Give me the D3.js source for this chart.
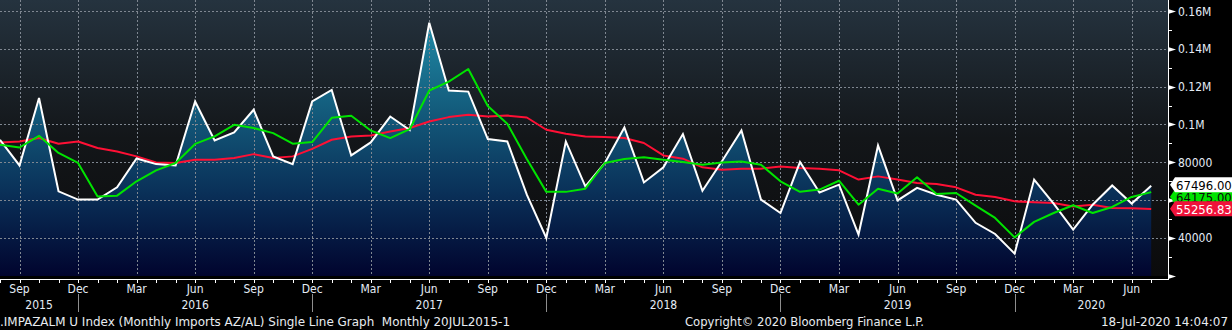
<!DOCTYPE html>
<html>
<head>
<meta charset="utf-8">
<script src="https://cdn.jsdelivr.net/npm/d3@7"></script>
<style>
  html, body { margin: 0; padding: 0; background: #000; }
  svg { display: block; }
  text {
    font-family: "DejaVu Sans Condensed", "DejaVu Sans", sans-serif;
    font-stretch: condensed;
    font-size: 12px;
    white-space: pre;
  }
</style>
</head>
<body>
<svg id="chart" width="1232" height="330"></svg>
<script>
// Monthly aluminium imports (Azerbaijan), Aug 2015 – Jul 2020
const firstMonth = [2015, 8];   // year, month (1-based)
const monthNames = ["Jan","Feb","Mar","Apr","May","Jun","Jul","Aug","Sep","Oct","Nov","Dec"];

const imports = [
  91900, 78300, 114000, 64600, 60200,
  60200, 66700, 82000, 79000, 78300, 112200, 91500, 95800, 107800, 83100, 79000, 112200,
  118300, 83600, 90500, 104200, 97000, 153900, 118000, 117400, 92300, 91000, 62800, 39900,
  91000, 67200, 79600, 98400, 69300, 77300, 94900, 64900, 80500, 96800, 60200, 53100,
  80100, 64000, 68100, 41700, 88900, 59800, 66400, 62800, 60200, 47900, 42000, 31600,
  70800, 58100, 44300, 57500, 67700, 58100, 67496.00
];

const avgShort = [
  89300, 87800, 94000, 84900, 79600,
  61900, 62300, 69900, 75700, 79600, 89700, 93700, 99800, 98100, 95400, 89800, 90700,
  103500, 104600, 96800, 92800, 97500, 118000, 122700, 129400, 109800, 100400, 81700, 64300,
  64300, 66000, 79600, 81700, 82600, 81300, 80100, 78700, 79900, 80400, 78700, 69900,
  64300, 65500, 70200, 57500, 66000, 63400, 72000, 63200, 63700, 57000, 50500, 40200,
  48400, 53100, 57200, 53100, 56300, 61600, 64175.00
];

const avgLong = [
  90500, 91000, 92800, 89800, 91000,
  87500, 85700, 83100, 79900, 79600, 81300, 81300, 82200, 84300, 82200, 83100, 87100,
  91900, 93600, 94200, 96300, 98100, 101600, 103900, 105100, 104200, 104700, 103700, 97200,
  95100, 93600, 93300, 92800, 90200, 83600, 81900, 77300, 76000, 76600, 76600, 77800,
  76900, 76600, 75700, 70800, 72500, 70800, 69000, 68500, 66700, 62800, 61600, 59300,
  58800, 58400, 56600, 57500, 55800, 55600, 55256.83
];

const yTickValues = [20000, 40000, 60000, 80000, 100000, 120000, 140000, 160000];
const yTickLabels = ["", "40000", "60000", "80000", "0.1M", "0.12M", "0.14M", "0.16M"];

const footerLeft  = ".IMPAZALM U Index (Monthly Imports AZ/AL) Single Line Graph  Monthly 20JUL2015-1";
const footerMid   = "Copyright\u00A9 2020 Bloomberg Finance L.P.";
const footerRight = "18-Jul-2020 14:04:07";

// ---- layout ----
const W = 1232, H = 330;
const plotRight = 1168, plotBottom = 276, axisY = 279;
const dataRight = 1151.2;

const months = imports.map((_, i) => {
  const m0 = firstMonth[1] - 1 + i;
  return { year: firstMonth[0] + Math.floor(m0 / 12), month: m0 % 12, key: i };
});

const x = d3.scalePoint().domain(months.map(d => d.key)).range([0, dataRight]);
const y = d3.scaleLinear().domain([20000, 160000]).range([275.5, 11.2]);

const svg = d3.select("#chart");
const defs = svg.append("defs");

const bgGrad = defs.append("linearGradient").attr("id", "bgGrad")
  .attr("gradientUnits", "userSpaceOnUse").attr("x1", 0).attr("y1", 0).attr("x2", 0).attr("y2", plotBottom);
bgGrad.append("stop").attr("offset", 0).attr("stop-color", "#25333f");
bgGrad.append("stop").attr("offset", 0.5).attr("stop-color", "#131619");
bgGrad.append("stop").attr("offset", 1).attr("stop-color", "#0b0b0c");

const areaGrad = defs.append("linearGradient").attr("id", "areaGrad")
  .attr("gradientUnits", "userSpaceOnUse").attr("x1", 0).attr("y1", 10).attr("x2", 0).attr("y2", plotBottom);
areaGrad.append("stop").attr("offset", 0).attr("stop-color", "#2190ab");
areaGrad.append("stop").attr("offset", 0.35).attr("stop-color", "#145f7f");
areaGrad.append("stop").attr("offset", 0.68).attr("stop-color", "#0a3159");
areaGrad.append("stop").attr("offset", 1).attr("stop-color", "#01042e");

svg.append("clipPath").attr("id", "plotClip")
  .append("rect").attr("x", 0).attr("y", 0).attr("width", plotRight).attr("height", plotBottom);

// background
svg.append("rect").attr("width", W).attr("height", H).attr("fill", "#000");
svg.append("rect").attr("x", 0).attr("y", 0).attr("width", plotRight).attr("height", plotBottom)
  .attr("fill", "url(#bgGrad)");

const plot = svg.append("g").attr("clip-path", "url(#plotClip)");

// area under the monthly series
plot.append("path")
  .datum(imports)
  .attr("fill", "url(#areaGrad)")
  .attr("d", d3.area().x((d, i) => x(i)).y0(plotBottom).y1(d => y(d)));

// grid
const gridColor = "#7f8791";
plot.append("g").selectAll("line").data(yTickValues).join("line")
  .attr("x1", 0).attr("x2", plotRight)
  .attr("y1", d => Math.round(y(d)) + 0.5).attr("y2", d => Math.round(y(d)) + 0.5)
  .attr("stroke", gridColor).attr("stroke-width", 1).attr("stroke-dasharray", "2,2");

const quarterMonths = months.filter(d => (d.month + 1) % 3 === 0);
plot.append("g").selectAll("line").data(quarterMonths).join("line")
  .attr("x1", d => Math.round(x(d.key)) + 0.5).attr("x2", d => Math.round(x(d.key)) + 0.5)
  .attr("y1", 0).attr("y2", plotBottom)
  .attr("stroke", gridColor).attr("stroke-width", 1).attr("stroke-dasharray", "2,2");

// series lines
const line = d3.line().x((d, i) => x(i)).y(d => y(d));
plot.append("path").datum(avgLong).attr("fill", "none")
  .attr("stroke", "#ff1035").attr("stroke-width", 2).attr("stroke-linejoin", "round").attr("d", line);
plot.append("path").datum(imports).attr("fill", "none")
  .attr("stroke", "#ffffff").attr("stroke-width", 2).attr("stroke-linejoin", "miter").attr("d", line);
plot.append("path").datum(avgShort).attr("fill", "none")
  .attr("stroke", "#00e400").attr("stroke-width", 2).attr("stroke-linejoin", "round").attr("d", line);

// bottom axis
const axisColor = "#ffffff";
svg.append("line").attr("x1", 0).attr("x2", plotRight + 0.5).attr("y1", axisY + 0.5).attr("y2", axisY + 0.5)
  .attr("stroke", axisColor).attr("stroke-width", 1);
svg.append("g").selectAll("line").data(months).join("line")
  .attr("x1", d => Math.round(x(d.key)) + 0.5).attr("x2", d => Math.round(x(d.key)) + 0.5)
  .attr("y1", axisY).attr("y2", axisY + 4)
  .attr("stroke", axisColor).attr("stroke-width", 1);

const labelColor = "#e4ecf6";
svg.append("g").selectAll("text").data(quarterMonths).join("text")
  .attr("x", d => x(d.key)).attr("y", 293)
  .attr("text-anchor", "middle").attr("fill", labelColor)
  .text(d => monthNames[d.month]);

// year separators at each December, year labels centred between them
const decembers = months.filter(d => d.month === 11);
svg.append("g").selectAll("line").data(decembers).join("line")
  .attr("x1", d => Math.round(x(d.key)) + 0.5).attr("x2", d => Math.round(x(d.key)) + 0.5)
  .attr("y1", 294).attr("y2", 312)
  .attr("stroke", "#8e8e8e").attr("stroke-width", 1);

const years = Array.from(new Set(months.map(d => d.year)));
svg.append("g").selectAll("text").data(years).join("text")
  .attr("x", yr => {
    const prevDec = months.find(d => d.year === yr - 1 && d.month === 11);
    const thisDec = months.find(d => d.year === yr && d.month === 11);
    const a = prevDec ? x(prevDec.key) : 0;
    const b = thisDec ? x(thisDec.key) : plotRight;
    return (a + b) / 2;
  })
  .attr("y", 309).attr("text-anchor", "middle").attr("fill", labelColor)
  .text(yr => yr);

// right axis
svg.append("line").attr("x1", plotRight + 0.5).attr("x2", plotRight + 0.5).attr("y1", 0).attr("y2", axisY + 1)
  .attr("stroke", axisColor).attr("stroke-width", 1);
const minorTicks = d3.range(30000, 170000, 20000);
svg.append("g").selectAll("line").data(minorTicks).join("line")
  .attr("x1", plotRight).attr("x2", plotRight + 4)
  .attr("y1", d => Math.round(y(d)) + 0.5).attr("y2", d => Math.round(y(d)) + 0.5)
  .attr("stroke", axisColor).attr("stroke-width", 1);
svg.append("g").selectAll("path").data(yTickValues).join("path")
  .attr("d", d => {
    const yy = Math.round(y(d)) + 0.5;
    return `M${plotRight},${yy - 2.5}L${plotRight + 8},${yy}L${plotRight},${yy + 2.5}Z`;
  })
  .attr("fill", axisColor);
svg.append("g").selectAll("text").data(yTickValues).join("text")
  .attr("x", 1178).attr("y", d => y(d)).attr("dy", "0.36em")
  .attr("fill", labelColor)
  .text((d, i) => yTickLabels[i]);

// last-value tags, stacked so they do not sit on top of one another
const fmt = d3.format(".2f");
const tags = [
  { value: imports[imports.length - 1], fill: "#ffffff", text: "#000000", order: 1 },
  { value: avgShort[avgShort.length - 1], fill: "#00e400", text: "#0b0b0b", order: 0 },
  { value: avgLong[avgLong.length - 1], fill: "#f0123a", text: "#ffffff", order: 2 }
];
tags.forEach(t => { t.cy = y(t.value); });
const sortedTags = tags.slice().sort((a, b) => a.cy - b.cy);
for (let i = 1; i < sortedTags.length; i++) {
  if (sortedTags[i].cy - sortedTags[i - 1].cy < 12) sortedTags[i].cy = sortedTags[i - 1].cy + 12;
}
sortedTags.forEach(t => { t.cy -= 1; });
const tagG = svg.append("g");
tags.slice().sort((a, b) => a.order - b.order).forEach(t => {
  const g = tagG.append("g");
  const c = t.cy, h = 7.5;
  g.append("path")
    .attr("d", `M${plotRight + 2},${c}L${plotRight + 7},${c - h}L${W},${c - h}L${W},${c + h}L${plotRight + 7},${c + h}Z`)
    .attr("fill", t.fill);
  g.append("text").attr("x", 1176).attr("y", c).attr("dy", "0.36em")
    .attr("fill", t.text).style("font-size", "13px")
    .text(fmt(t.value));
});

// footer
const footColor = "#e8ecf0";
svg.append("text").attr("x", 0).attr("y", 326).attr("fill", footColor)
  .attr("textLength", 510).attr("lengthAdjust", "spacingAndGlyphs").text(footerLeft);
svg.append("text").attr("x", 685).attr("y", 326).attr("fill", footColor)
  .attr("textLength", 239).attr("lengthAdjust", "spacingAndGlyphs").text(footerMid);
svg.append("text").attr("x", 1101).attr("y", 326).attr("fill", footColor)
  .attr("textLength", 127).attr("lengthAdjust", "spacingAndGlyphs").text(footerRight);
</script>
</body>
</html>
